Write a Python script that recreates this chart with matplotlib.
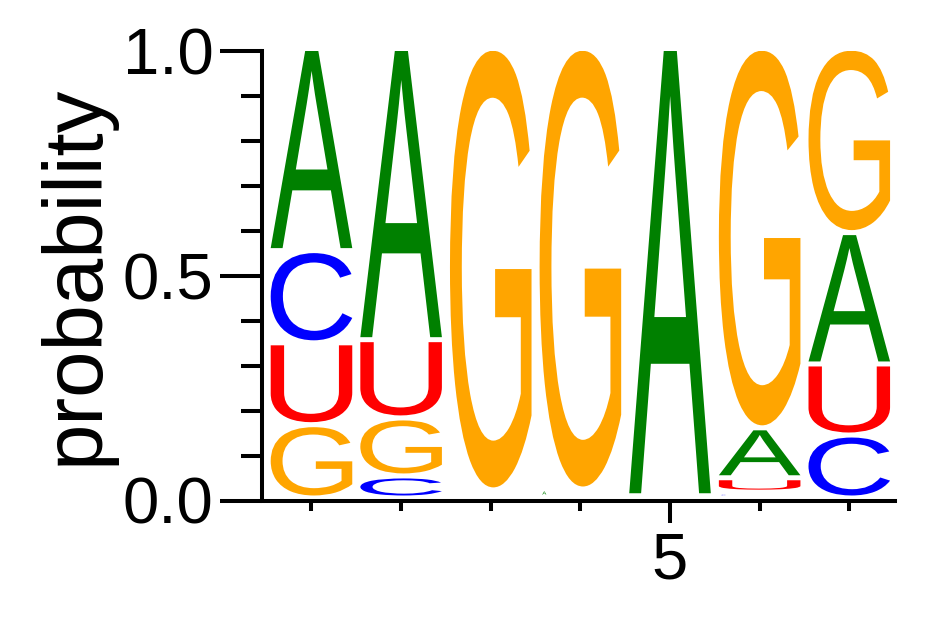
import numpy as np
import matplotlib
matplotlib.use("Agg")
import matplotlib.pyplot as plt
from matplotlib.textpath import TextPath
from matplotlib.patches import PathPatch
from matplotlib.font_manager import FontProperties
from matplotlib.transforms import Affine2D
from matplotlib.ticker import MultipleLocator, FixedLocator

# per-position letter probabilities
positions = [1, 2, 3, 4, 5, 6, 7]
prob_A = [0.450, 0.648, 0.006, 0.018, 0.995, 0.111, 0.292]
prob_C = [0.205, 0.049, 0.006, 0.001, 0.002, 0.013, 0.140]
prob_G = [0.163, 0.129, 0.982, 0.980, 0.002, 0.844, 0.410]
prob_U = [0.182, 0.174, 0.006, 0.001, 0.001, 0.032, 0.158]

COLORS = {"A": "#008000", "C": "#0000FF", "G": "#FFA500", "U": "#FF0000"}
FONT = FontProperties(family="Liberation Sans")

W, H = 942, 617
fig = plt.figure(figsize=(W / 100, H / 100), dpi=100)
ax = fig.add_axes([262 / W, (H - 500.5) / H, (895 - 262) / W, (500.5 - 50.7) / H])

GAP = 5 / 449.5      # blank strip under each glyph
COL_W = 0.91


def draw_letter(ax, letter, xc, y0, h):
    top = y0 + h
    bot = y0 + GAP
    if top - bot <= 0:
        return
    w = COL_W
    if top - bot < 0.01:
        # very small glyphs come out as a speck at the left of the column
        w = 0.045
    tp = TextPath((0, 0), letter, size=1, prop=FONT)
    bb = tp.get_extents()
    tr = (Affine2D().translate(-bb.x0, -bb.y0)
          .scale(w / bb.width, (top - bot) / bb.height)
          .translate(xc - COL_W / 2 + 0.03 * (w < COL_W), bot))
    ax.add_patch(PathPatch(tr.transform_path(tp), facecolor=COLORS[letter],
                           edgecolor="none", lw=0))


probs = {"A": prob_A, "C": prob_C, "G": prob_G, "U": prob_U}
for i, pos in enumerate(positions):
    col = sorted(((probs[k][i], k) for k in probs))
    y = 0.0
    for p, k in col:
        draw_letter(ax, k, pos, y, p)
        y += p

ax.set_xlim(0.448, 7.51)
ax.set_ylim(0, 1)

for s in ["top", "right"]:
    ax.spines[s].set_visible(False)
for s in ["left", "bottom"]:
    ax.spines[s].set_linewidth(2.9)
ax.spines["bottom"].set_bounds(0.49, 7.51)

ax.yaxis.set_major_locator(FixedLocator([0.0, 0.5, 1.0]))
ax.yaxis.set_minor_locator(MultipleLocator(0.1))
ax.set_yticklabels(["0.0", "0.5", "1.0"])
ax.xaxis.set_major_locator(FixedLocator([5]))
ax.xaxis.set_minor_locator(FixedLocator([1, 2, 3, 4, 6, 7]))
ax.set_xticklabels(["5"])

ax.tick_params(axis="y", which="major", length=30, width=2.9, pad=5,
               labelsize=47)
ax.tick_params(axis="y", which="minor", length=15, width=2.9)
ax.tick_params(axis="x", which="major", length=16, width=2.9, pad=6,
               labelsize=47)
ax.tick_params(axis="x", which="minor", length=7, width=2.9)
for lab in ax.get_xticklabels() + ax.get_yticklabels():
    lab.set_fontfamily("Liberation Sans")

fig.text(98 / W, (H - 275) / H, "probability", rotation=90,
         rotation_mode="anchor", ha="center", va="baseline",
         fontsize=60, family="Liberation Sans")

fig.savefig("out.png", dpi=100)
